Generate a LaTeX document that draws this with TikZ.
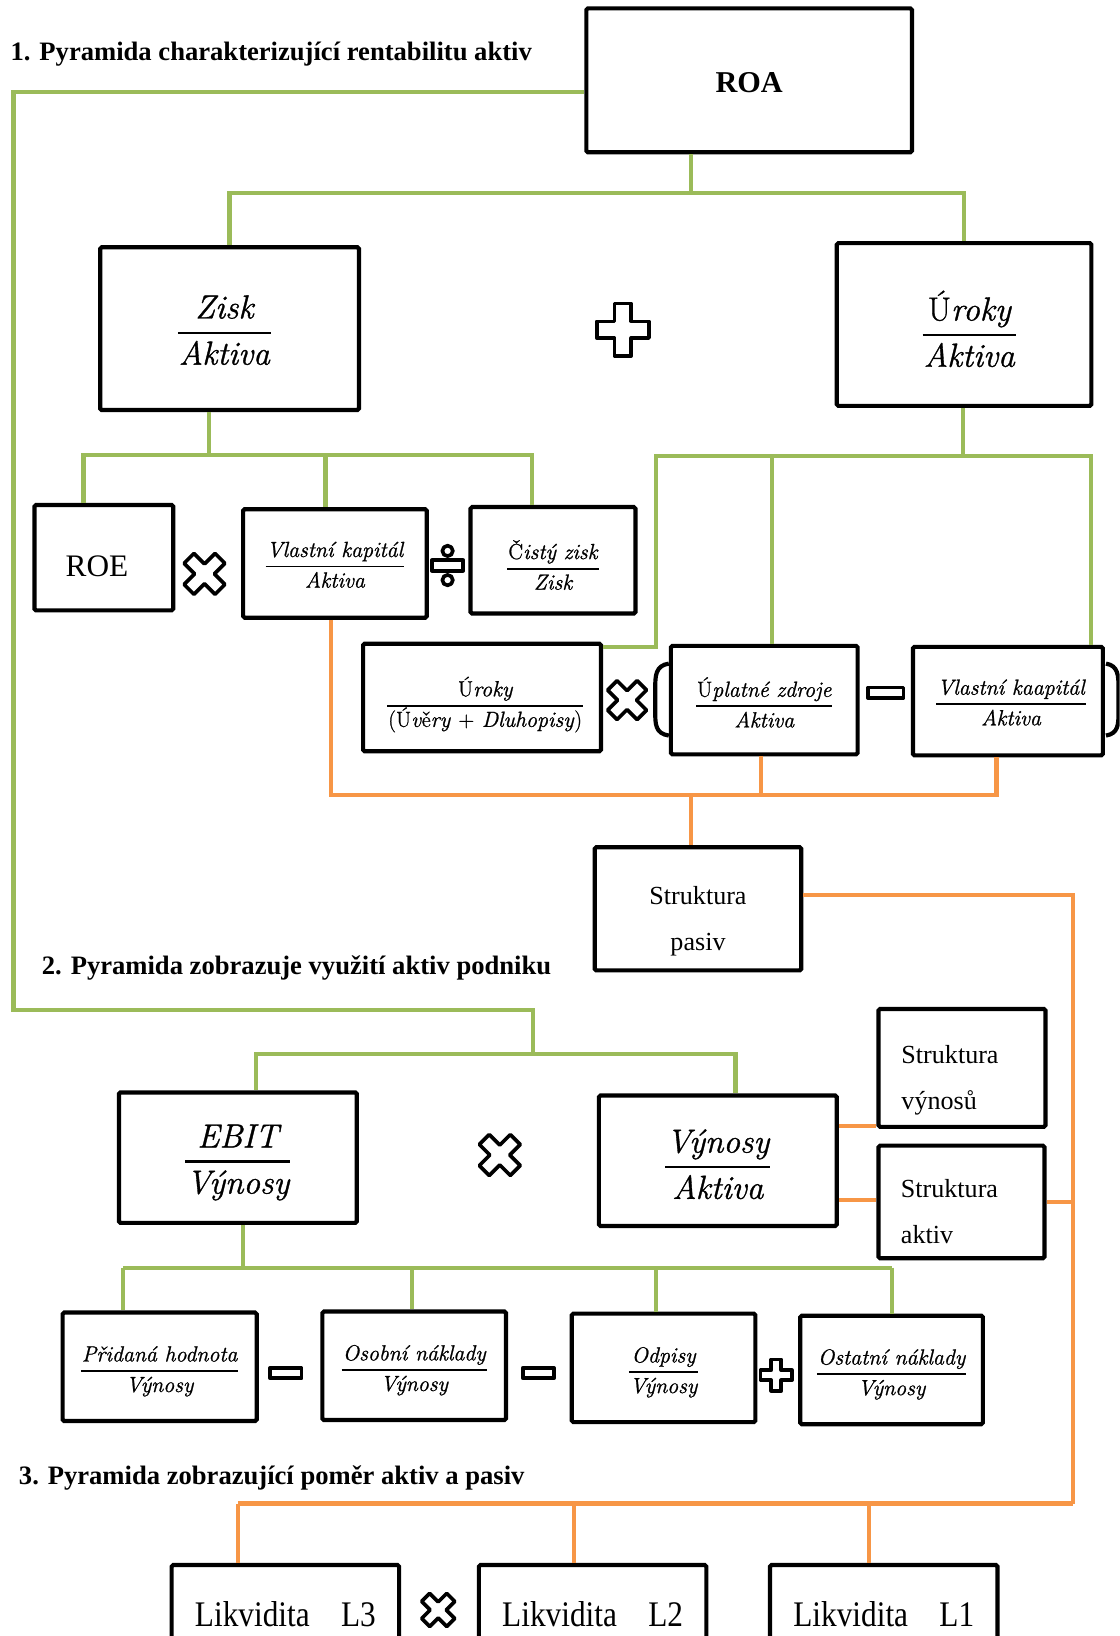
\documentclass[tikz,border=0pt]{standalone}
\usepackage{amsmath}
\usepackage{fontspec}
\newfontfamily\tnr{Liberation Serif}
\newfontfamily\frcfont[FakeBold=1]{Latin Modern Roman}
\usetikzlibrary{calc}

\definecolor{olivegreen}{HTML}{9BBB59}
\definecolor{lightorange}{HTML}{F79646}

% fraction with a heavy rule, optional drop
\newcommand{\frc}[3][0]{\raisebox{-#1pt}[\height][\depth]{\begin{tabular}{@{\hspace{1pt}}c@{\hspace{1pt}}}#2\\\hline #3\end{tabular}}}
% two stacked lines
\newcommand{\stk}[3]{\raisebox{-9pt}[\height][\depth]{\begin{tabular}{@{}#1@{}}#2\\#3\end{tabular}}}
\newcommand{\up}[1]{\textup{#1}}

\tikzset{
  box/.style={draw, line width=4pt, rounded corners=1.5pt, inner sep=0pt},
  dims/.style 2 args={minimum width=#1pt, minimum height=#2pt},
  gline/.style={draw=olivegreen, line width=4pt},
  oline/.style={draw=lightorange, line width=4pt},
  opline/.style={draw=black, fill=white, line width=3.5pt, line join=round},
  bigfrac/.style={font=\frcfont\itshape\fontsize{32}{38}\selectfont,
    execute at begin node={\renewcommand{\arraystretch}{1.1}\setlength{\arrayrulewidth}{2.5pt}}},
  smallfrac/.style={font=\frcfont\itshape\fontsize{21}{25}\selectfont,
    execute at begin node={\renewcommand{\arraystretch}{1.1}\setlength{\arrayrulewidth}{1.8pt}}},
  plain/.style={font=\tnr\fontsize{25}{44}\selectfont},
  title/.style={font=\tnr\bfseries\fontsize{25.5}{30}\selectfont, anchor=west, inner sep=0pt},
  pics/opplus/.style={code={
    \pgfmathsetmacro\armw{0.32*#1}
    \draw[opline] (-\armw,-#1) -- (\armw,-#1) -- (\armw,-\armw) -- (#1,-\armw) -- (#1,\armw)
      -- (\armw,\armw) -- (\armw,#1) -- (-\armw,#1) -- (-\armw,\armw) -- (-#1,\armw)
      -- (-#1,-\armw) -- (-\armw,-\armw) -- cycle;
  }},
  pics/opminus/.style={code={\draw[opline] (-#1,-5) rectangle (#1,5);}},
  pics/opdiv/.style={code={
    \draw[opline] (-15,-5) rectangle (15,5);
    \draw[opline] (0,-14) circle (5);
    \draw[opline] (0,14) circle (5);
  }},
}

\begin{document}
\begin{tikzpicture}[x=1pt, y=-1pt]
  \useasboundingbox (0,0) rectangle (1073,1568);
  \clip (0,0) rectangle (1073,1568);
  \fill[white] (0,0) rectangle (1073,1568);

  % titles
  \node[title] (t1) at (10,52) {1. Pyramida charakterizující rentabilitu aktiv};
  \node[title] (t2) at (40,928) {2. Pyramida zobrazuje využití aktiv podniku};
  \node[title] (t3) at (18,1417) {3. Pyramida zobrazující poměr aktiv a pasiv};

  % pyramid 1
  \node[box, dims={312}{138}, font=\tnr\bfseries\fontsize{29}{34}\selectfont] (roa) at (718,77) {\raisebox{-2pt}[\height][\depth]{ROA}};
  \node[box, dims={248}{156}, bigfrac] (zisk) at (220,315) {\frc[4]{Zisk}{Aktiva}\hspace*{10pt}};
  \node[box, dims={244}{156}, bigfrac] (uroky) at (924,311) {\hspace*{10pt}\frc[10]{\up{Ú}roky}{Aktiva}};
  \node[box, dims={133}{101}, font=\tnr\fontsize{30}{34}\selectfont] (roe) at (99.5,534.5) {\raisebox{-8pt}[\height][\depth]{ROE}\hspace*{13pt}};
  \node[box, dims={176}{104}, smallfrac] (vk) at (321,540) {\frc[3]{Vlastní kapitál}{Aktiva}};
  \node[box, dims={158}{102}, smallfrac] (cz) at (530,537) {\frc[8]{\up{Č}istý zisk}{Zisk}};
  \node[box, dims={228}{103}, smallfrac] (uu) at (462,668.5)
    {\hspace*{6pt}\frc[8]{\up{Ú}roky}{\up{(Ú}v\up{ě}ry \up{+} Dluhopisy\up{)}}};
  \node[box, dims={179}{104}, smallfrac] (uz) at (732.5,671) {\frc[6]{\up{Ú}platné zdroje}{Aktiva}};
  \node[box, dims={182}{104}, smallfrac] (vkk) at (966,672) {\hspace*{6pt}\frc[3]{Vlastní kaapitál}{Aktiva}};
  \node[box, dims={198}{118}, plain] (spas) at (669,871) {\stk{c}{Struktura}{pasiv}};

  \pic at (597,316) {opplus=25};
  \pic[rotate=45] at (196,550) {opplus=21};
  \pic at (429,542) {opdiv};
  \pic[rotate=45] at (601,671) {opplus=20};
  \pic at (849,664) {opminus=17};
  \draw[line width=4pt] (641,636) .. controls (628,638) and (628,648) .. (628,660) -- (628,682)
    .. controls (628,694) and (628,703) .. (641,705);
  \draw[line width=4pt] (1060,636) .. controls (1072,638) and (1072,648) .. (1072,660) -- (1072,682)
    .. controls (1072,694) and (1072,703) .. (1060,705);

  % pyramid 2
  \node[box, dims={228}{125}, bigfrac] (ebit) at (228,1109.5) {\frc[4]{EBIT}{Výnosy}};
  \node[box, dims={228}{125}, bigfrac] (vyak) at (688,1112.5) {\frc[6]{Výnosy}{Aktiva}};
  \node[box, dims={160}{113}, plain, align=left, text width=116pt] (svyn) at (922,1023.5) {\stk{l}{Struktura}{výnosů}};
  \node[box, dims={159}{108}, plain, align=left, text width=116pt] (sakt) at (921.5,1152) {\stk{l}{Struktura}{aktiv}};
  \foreach \nm/\x/\y/\w/\num in {phod/153/1310/186/Přidaná hodnota, onak/397/1309/176/Osobní náklady,
      odp/636/1311/176/Odpisy, ostn/854.5/1313/175/Ostatní náklady} {
    \node[box, dims={\w}{104}, smallfrac] (\nm) at (\x,\y) {\frc[4]{\num}{Výnosy}};
  }
  \pic[rotate=45] at (479,1107) {opplus=21};
  \pic at (274,1316) {opminus=15};
  \pic at (516,1316) {opminus=15};
  \pic at (744,1318) {opplus=15};

  % pyramid 3
  \foreach \nm/\x/\lab in {l3/273.5/L3, l2/568/L2, l1/847/L1} {
    \node[box, dims={218}{94}, font=\tnr\fontsize{30}{34}\selectfont] (\nm) at (\x,1547)
      {\scalebox{1}[1.15]{Likvidita\hspace{1em}\lab}};
  }
  \pic[rotate=45] at (420,1543) {opplus=17};

  % green connectors
  \coordinate (g0) at (13,88);
  \coordinate (g1) at (13,968);
  \coordinate (g2) at (511,968);
  \coordinate (g3) at (511,1010);
  \draw[gline] (g0 -| roa.west) -- (g0) -- (g1) -- (g2) -- (g3);
  \coordinate (e1) at (245,1010);
  \coordinate (e2) at (705,1010);
  \draw[gline] (e1 |- ebit.north) -- (e1) -- (e2) -- (e2 |- vyak.north);

  \coordinate (r1) at (662,185);
  \draw[gline] (r1 |- roa.south) -- (r1);
  \draw[gline] (zisk.north) |- (r1) -| (uroky.north);

  \coordinate (z0) at (80,436);
  \coordinate (z1) at (200,436);
  \coordinate (z2) at (312,436);
  \coordinate (z3) at (510,436);
  \draw[gline] (z1 |- zisk.south) -- (z1);
  \draw[gline] (z0 |- roe.north) -- (z0) -- (z3) -- (z3 |- cz.north);
  \draw[gline] (z2) -- (z2 |- vk.north);

  \coordinate (u0) at (629,437);
  \coordinate (u1) at (923,437);
  \coordinate (u2) at (740,437);
  \coordinate (u3) at (1046,437);
  \coordinate (u4) at (629,620);
  \draw[gline] (u1 |- uroky.south) -- (u1);
  \draw[gline] (u4 -| uu.east) -- (u4) -- (u0) -- (u3) -- (u3 |- vkk.north);
  \draw[gline] (u2) -- (u2 |- uz.north);

  \coordinate (h0) at (233,1215);
  \draw[gline] (h0 |- ebit.south) -- (h0);
  \foreach \nm/\cx [count=\i] in {phod/118, onak/395, odp/629, ostn/855} {
    \coordinate (h\i) at (\cx,1215);
    \draw[gline] (h\i) -- (h\i |- \nm.north);
  }
  \draw[gline] (h1) -- (h4);

  % orange connectors
  \coordinate (o0) at (317,762);
  \coordinate (o1) at (955,762);
  \coordinate (o2) at (729,762);
  \coordinate (o3) at (662,762);
  \draw[oline] (o0 |- vk.south) -- (o0) -- (o1) -- (o1 |- vkk.south);
  \draw[oline] (o2 |- uz.south) -- (o2);
  \draw[oline] (o3) -- (o3 |- spas.north);

  \coordinate (p0) at (1028,858);
  \coordinate (p1) at (1028,1441);
  \draw[oline] (p0 -| spas.east) -- (p0) -- (p1);
  \draw[oline] (sakt.east) -- (sakt.east -| p1);
  \coordinate (q1) at (822,1079);
  \coordinate (q2) at (822,1150);
  \draw[oline] (q1 -| vyak.east) -- (q1 -| svyn.west);
  \draw[oline] (q2 -| vyak.east) -- (q2 -| sakt.west);
  \foreach \nm/\cx in {l3/228, l2/550, l1/833} {
    \coordinate (p\nm) at (\cx,1441);
    \draw[oline] (p\nm) -- (p\nm |- \nm.north);
  }
  \draw[oline] (pl3) -- (p1);
\end{tikzpicture}
\end{document}
